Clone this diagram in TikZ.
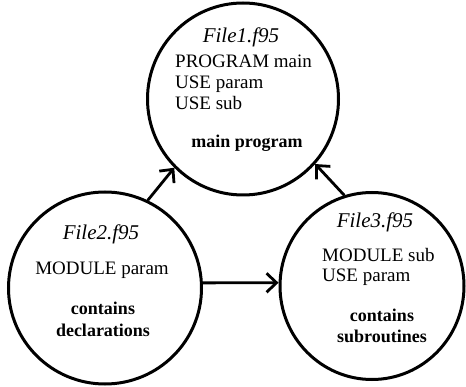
\documentclass[tikz,border=0pt]{standalone}
\usepackage{fontspec}
\setmainfont{Liberation Serif}
\usetikzlibrary{arrows.meta,shapes.geometric}

\tikzset{
  filecircle/.style={draw=black, line width=3pt, ellipse, inner sep=0pt},
  link/.style={line width=2.8pt, -{Straight Barb[length=10pt,width=19pt,line width=2.8pt]}},
  title/.style={anchor=base, inner sep=0pt, font=\fontsize{21}{21}\selectfont\itshape},
  code/.style={anchor=base west, inner sep=0pt, font=\fontsize{19}{19}\selectfont},
  note/.style={anchor=base, inner sep=0pt, font=\fontsize{18}{18}\selectfont\bfseries},
}

\begin{document}
\begin{tikzpicture}[x=1pt, y=-1pt]
  \useasboundingbox (0,0) rectangle (466,387);

  % the three source files
  \node[filecircle, minimum width=191pt, minimum height=192pt] (main) at (243,99) {};
  \node[filecircle, minimum width=193pt, minimum height=192pt] (param) at (105,288) {};
  \node[filecircle, minimum width=184pt, minimum height=187pt] (sub) at (372,286) {};

  % File1.f95
  \node[title] (t1) at (241,43) {File1.f95};
  \node[code] (c1a) at (175,68) {PROGRAM main};
  \node[code] (c1b) at (175,89) {USE param};
  \node[code] (c1c) at (175,110) {USE sub};
  \node[note] (n1) at (247,148) {main program};

  % File2.f95
  \node[title] (t2) at (101,240) {File2.f95};
  \node[code, anchor=base] (c2a) at (102,275) {MODULE param};
  \node[note] (n2a) at (103,315) {contains};
  \node[note] (n2b) at (103,337) {declarations};

  % File3.f95
  \node[title] (t3) at (375,228) {File3.f95};
  \node[code] (c3a) at (322,262) {MODULE sub};
  \node[code] (c3b) at (322,282) {USE param};
  \node[note] (n3a) at (382,322) {contains};
  \node[note] (n3b) at (382,343) {subroutines};

  % module dependencies
  \draw[link] (param.64) -- (main.225);
  \draw[link] (sub.107) -- (main.318);
  \draw[link] (param.3) -- (sub.178);
\end{tikzpicture}
\end{document}
